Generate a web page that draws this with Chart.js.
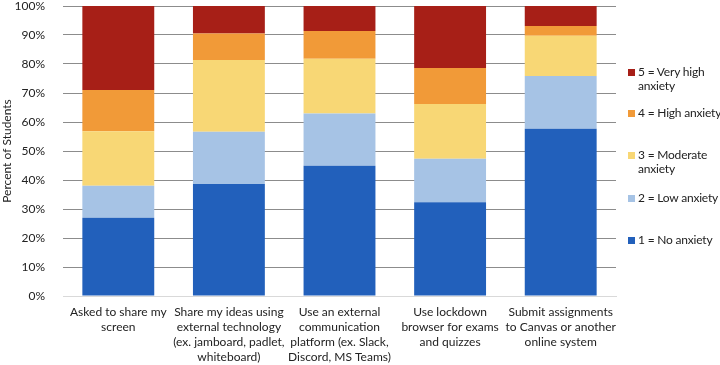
<!DOCTYPE html>
<html>
<head>
<meta charset="utf-8">
<script src="https://cdn.jsdelivr.net/npm/chart.js@4"></script>
<style>
  html, body { margin: 0; padding: 0; background: #fff; }
  #wrap { position: relative; width: 720px; height: 365px; }
  canvas { position: absolute; left: 0; top: 0; }
  .leg { position: absolute; left: 628px; font-family: Lato, "Open Sans", sans-serif; font-size: 12px; letter-spacing: -0.2px; color: #222; line-height: 14px; }
  .leg .sw { position: absolute; left: 0; top: 4px; width: 7px; height: 7px; }
  .leg .tx { position: absolute; left: 10px; top: 0; white-space: nowrap; }
</style>
</head>
<body>
<div id="wrap">
  <canvas id="c" width="720" height="365"></canvas>
  <div id="legend"></div>
</div>
<script>
const categories = [
  ["Asked to share my", "screen"],
  ["Share my ideas using", "external technology", "(ex. jamboard, padlet,", "whiteboard)"],
  ["Use an external", "communication", "platform (ex. Slack,", "Discord, MS Teams)"],
  ["Use lockdown", "browser for exams", "and quizzes"],
  ["Submit assignments", "to Canvas or another", "online system"]
];
const noAnxiety       = [27.0, 38.6, 44.9, 32.3, 57.7];
const lowAnxiety      = [11.0, 18.0, 18.0, 15.0, 18.2];
const moderateAnxiety = [18.8, 24.8, 18.9, 18.9, 13.8];
const highAnxiety     = [14.2,  9.1,  9.6, 12.4,  3.4];
const veryHighAnxiety = [29.0,  9.5,  8.6, 21.4,  6.9];
const seriesNames = ["1 = No anxiety", "2 = Low anxiety", "3 = Moderate anxiety", "4 = High anxiety", "5 = Very high anxiety"];
const yTicks = [0, 10, 20, 30, 40, 50, 60, 70, 80, 90, 100];

const colors = ["#2260BB", "#A6C3E5", "#F8D775", "#F19A38", "#A71F17"];
const seriesData = [noAnxiety, lowAnxiety, moderateAnxiety, highAnxiety, veryHighAnxiety];

const font = { family: "Lato, 'Open Sans', sans-serif", size: 12, lineHeight: 1.25 };

new Chart(document.getElementById('c'), {
  type: 'bar',
  data: {
    labels: categories,
    datasets: seriesData.map((d, i) => ({
      label: seriesNames[i],
      data: d,
      backgroundColor: colors[i],
      borderWidth: 0,
      categoryPercentage: 0.65,
      barPercentage: 1.0
    }))
  },
  options: {
    responsive: false,
    animation: false,
    layout: { padding: { top: 0, right: 104, left: 0, bottom: 0 } },
    plugins: { legend: { display: false }, tooltip: { enabled: false } },
    scales: {
      x: {
        stacked: true,
        grid: { display: false, drawTicks: false },
        border: { color: '#d9d9d9' },
        afterFit: (ax) => { ax.height = 69; },
        ticks: { color: '#222', font: font, maxRotation: 0, autoSkip: false, padding: 9 }
      },
      y: {
        stacked: true,
        min: 0, max: 100,
        afterBuildTicks: (ax) => { ax.ticks = yTicks.map(v => ({ value: v })); },
        afterFit: (ax) => { ax.width = 63; },
        grid: { color: '#8c8c8c', lineWidth: 1, drawTicks: true, tickLength: 18, tickColor: 'rgba(0,0,0,0)' },
        border: { display: false },
        ticks: { color: '#222', font: { family: font.family, size: 12, lineHeight: 1.0 }, padding: 0, callback: v => v + '%' },
        title: { display: true, text: 'Percent of Students', color: '#222', font: { family: font.family, size: 12 }, padding: { top: 0, bottom: 2 } }
      }
    }
  }
});

// HTML legend (reverse order, as in the reference)
const legendPos = [
  { top: 65, text: "5 = Very high<br>anxiety" },
  { top: 106, text: "4 = High anxiety" },
  { top: 148, text: "3 = Moderate<br>anxiety" },
  { top: 191, text: "2 = Low anxiety" },
  { top: 233, text: "1 = No anxiety" }
];
const legend = document.getElementById('legend');
legendPos.forEach((p, k) => {
  const idx = 4 - k;
  const div = document.createElement('div');
  div.className = 'leg';
  div.style.top = p.top + 'px';
  div.innerHTML = '<span class="sw" style="background:' + colors[idx] + '"></span><span class="tx">' + p.text + '</span>';
  legend.appendChild(div);
});
</script>
</body>
</html>
